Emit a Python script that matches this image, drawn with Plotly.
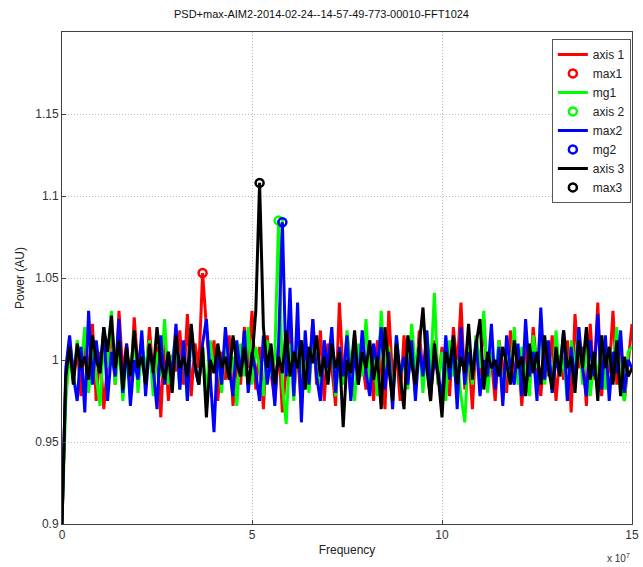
import plotly.graph_objects as go

title = "PSD+max-AIM2-2014-02-24--14-57-49-773-00010-FFT1024"
freq_step = 1e6

red = [0.900, 0.988, 1.012, 0.992, 1.008, 0.978, 1.015, 0.990, 1.022, 0.975,
       1.005, 0.970, 0.998, 1.018, 0.985, 1.030, 0.992, 1.010, 0.980, 1.026,
       0.995, 1.012, 0.985, 1.020, 0.990, 1.008, 0.965, 1.015, 0.975, 1.003,
       0.993, 1.018, 0.985, 1.028, 0.978, 1.010, 0.995, 1.053, 1.020, 0.990,
       1.012, 0.975, 1.005, 0.988, 1.015, 0.972, 1.000, 0.985, 1.020, 0.995,
       1.030, 0.982, 1.008, 0.970, 1.015, 0.992, 0.975, 1.010, 0.968, 0.995,
       1.020, 0.980, 1.005, 0.970, 1.012, 0.990, 1.025, 0.985, 1.018, 0.975,
       1.010, 0.995, 0.972, 1.035, 0.990, 1.005, 0.978, 1.015, 0.988, 1.000,
       0.982, 1.008, 0.975, 1.012, 0.995, 0.970, 1.030, 0.988, 1.005, 0.975,
       1.015, 0.990, 1.002, 0.980, 1.018, 0.992, 1.000, 0.975, 1.012, 0.985,
       1.008, 0.992, 0.978, 1.020, 0.995, 1.035, 0.982, 1.005, 0.970, 1.015,
       0.990, 1.025, 0.985, 1.000, 0.975, 1.012, 0.995, 0.980, 1.018, 0.990,
       1.005, 0.972, 1.010, 0.985, 1.020, 0.995, 0.978, 1.008, 0.990, 1.015,
       0.975, 1.003, 0.988, 1.012, 0.968, 1.028, 0.995, 1.008, 0.972, 1.022,
       0.988, 1.035, 0.978, 1.005, 0.992, 1.030, 0.985, 1.010, 0.975, 1.000,
       1.022]

green = [0.900, 0.975, 1.005, 0.985, 1.012, 0.995, 1.020, 0.980, 1.008, 0.990,
         0.972, 1.015, 0.995, 1.030, 0.985, 1.010, 0.975, 1.002, 0.990, 1.018,
         0.980, 1.008, 0.995, 1.012, 0.978, 1.005, 0.990, 1.025, 0.985, 1.000,
         1.015, 0.982, 1.010, 0.975, 1.018, 0.995, 0.985, 1.008, 0.978, 1.012,
         0.992, 1.005, 0.980, 1.015, 0.988, 1.002, 0.972, 1.010, 0.990, 1.020,
         0.985, 1.008, 0.995, 0.978, 1.012, 0.990, 1.002, 1.085, 0.985, 0.961,
         1.010, 0.975, 1.020, 0.990, 1.005, 0.980, 1.015, 0.995, 0.982, 1.008,
         0.990, 1.012, 0.978, 1.002, 0.985, 1.018, 0.995, 0.975, 1.010, 0.990,
         1.025, 0.985, 1.005, 0.978, 1.030, 0.992, 1.008, 0.975, 1.015, 0.990,
         1.000, 0.982, 1.022, 0.995, 1.010, 0.980, 1.018, 0.992, 1.041, 0.985,
         1.005, 0.975, 1.012, 0.990, 1.000, 0.978, 0.962, 1.008, 0.985, 1.015,
         0.995, 1.030, 0.980, 1.005, 0.990, 1.012, 0.975, 1.002, 0.988, 1.020,
         0.985, 1.008, 0.992, 0.978, 1.015, 0.995, 1.025, 0.985, 1.005, 0.980,
         1.018, 0.990, 1.002, 0.975, 1.012, 0.995, 1.020, 0.985, 1.010, 0.978,
         1.000, 0.990, 1.015, 0.982, 1.008, 0.995, 1.020, 0.985, 0.975, 1.005,
         1.008]

blue = [0.900, 0.995, 1.015, 0.990, 0.975, 1.008, 0.968, 1.030, 0.985, 1.012,
        0.992, 1.020, 0.975, 1.005, 0.990, 1.025, 0.980, 1.010, 0.972, 1.000,
        0.988, 1.018, 0.978, 1.008, 0.995, 0.970, 1.015, 0.985, 1.005, 0.990,
        1.022, 0.982, 1.012, 0.975, 1.020, 0.995, 0.985, 1.010, 1.025, 0.990,
        0.956, 1.008, 0.985, 1.020, 0.995, 0.978, 1.012, 0.990, 1.018, 0.980,
        1.005, 0.992, 0.975, 1.015, 0.985, 1.002, 0.972, 1.010, 1.084, 0.990,
        1.044, 0.978, 1.035, 0.962, 1.018, 0.985, 1.025, 0.990, 0.975, 1.012,
        0.995, 1.020, 0.980, 1.008, 0.990, 1.015, 0.975, 1.005, 0.985, 1.018,
        0.992, 0.978, 1.010, 0.995, 1.020, 0.982, 1.005, 0.970, 1.015, 0.990,
        1.002, 0.985, 1.012, 0.975, 1.008, 0.990, 1.018, 0.980, 1.000, 0.992,
        0.975, 1.015, 0.988, 1.010, 0.970, 1.020, 0.985, 1.005, 0.992, 1.012,
        0.978, 1.000, 0.990, 1.022, 0.982, 1.008, 0.972, 1.015, 0.995, 0.985,
        1.010, 0.978, 1.025, 0.990, 1.005, 0.975, 1.032, 0.988, 1.012, 0.980,
        1.000, 0.992, 1.018, 0.975, 1.008, 0.985, 1.020, 0.995, 0.978, 1.012,
        0.990, 1.028, 0.982, 1.015, 0.975, 1.005, 0.992, 1.018, 0.980, 1.000,
        0.995]

black = [0.900, 0.990, 1.008, 0.985, 1.010, 0.995, 1.002, 0.988, 1.015, 1.000,
         0.992, 1.020, 1.005, 1.027, 0.995, 1.012, 0.982, 1.008, 0.990, 1.018,
         0.995, 1.002, 0.985, 1.010, 0.992, 1.020, 0.998, 0.988, 1.005, 0.980,
         1.015, 0.995, 1.002, 0.990, 1.022, 0.998, 0.985, 1.008, 0.965, 1.000,
         0.992, 1.010, 0.995, 1.002, 0.988, 1.015, 0.998, 0.990, 1.008, 0.985,
         1.000, 1.030, 1.108, 1.020, 0.995, 1.010, 0.985, 1.002, 0.992, 1.018,
         0.990, 1.005, 0.995, 1.012, 0.982, 1.008, 0.998, 1.015, 0.990, 1.002,
         0.985, 1.010, 0.995, 1.005, 0.959, 1.000, 0.992, 1.018, 0.985, 1.005,
         0.995, 1.012, 0.988, 1.002, 0.970, 1.020, 0.995, 0.975, 1.010, 0.990,
         0.970, 1.015, 0.998, 0.985, 1.008, 1.032, 0.995, 0.975, 1.010, 0.990,
         0.965, 1.005, 0.995, 1.015, 0.985, 1.002, 0.992, 1.022, 0.988, 1.010,
         1.025, 0.982, 1.005, 0.995, 1.000, 0.990, 1.008, 0.998, 0.985, 1.012,
         0.995, 1.002, 0.978, 1.010, 0.992, 1.005, 0.985, 1.015, 0.995, 0.982,
         1.008, 0.990, 1.018, 0.995, 1.002, 0.980, 1.012, 0.995, 1.020, 0.988,
         1.005, 0.975, 1.015, 0.995, 1.008, 0.985, 1.012, 0.978, 1.002, 0.990,
         0.995]

series = [
    ("axis 1", "max1", red, "#ff0000"),
    ("mg1", "axis 2", green, "#00ff00"),
    ("max2", "mg2", blue, "#0000ff"),
    ("axis 3", "max3", black, "#000000"),
]

x_ticks = [0, 5e7, 10e7, 15e7]
x_tick_labels = ["0", "5", "10", "15"]
y_ticks = [0.9, 0.95, 1.0, 1.05, 1.1, 1.15]
y_tick_labels = ["0.9", "0.95", "1", "1.05", "1.1", "1.15"]

fig = go.Figure()
for line_name, max_name, vals, col in series:
    xs = [i * freq_step for i in range(len(vals))]
    fig.add_trace(go.Scatter(x=xs, y=vals, mode="lines", name=line_name,
                             line=dict(color=col, width=3)))
    imax = max(range(len(vals)), key=lambda i: vals[i])
    fig.add_trace(go.Scatter(x=[xs[imax]], y=[vals[imax]], mode="markers", name=max_name,
                             marker=dict(symbol="circle-open", size=8, color=col,
                                         line=dict(color=col, width=2.5))))

font_family = "Liberation Sans, Arial, sans-serif"
axis_common = dict(showline=True, linecolor="#404040", linewidth=1, mirror=True,
                   ticks="inside", ticklen=4, tickcolor="#404040",
                   showgrid=True, gridcolor="#bdbdbd", griddash="1px,2px", gridwidth=1,
                   zeroline=False, tickfont=dict(size=12, color="#333333", family=font_family))

fig.update_layout(
    width=643, height=567,
    margin=dict(l=62, r=11, t=32, b=43, autoexpand=False),
    paper_bgcolor="white", plot_bgcolor="white",
    font=dict(family=font_family, size=12, color="#222222"),
    title=dict(text=title, x=0.5, xanchor="center", y=0.975, yanchor="middle",
               font=dict(size=11, color="#111111")),
    showlegend=True,
    legend=dict(x=0.998, y=0.986, xanchor="right", yanchor="top",
                bgcolor="white", bordercolor="#555555", borderwidth=1,
                font=dict(size=12, color="#222222"), tracegroupgap=0,
                itemwidth=30),
    xaxis=dict(range=[0, 15e7], tickvals=x_ticks, ticktext=x_tick_labels,
               title=dict(text="Frequency", standoff=4, font=dict(size=12)), **axis_common),
    yaxis=dict(range=[0.9, 1.2], tickvals=y_ticks, ticktext=y_tick_labels,
               title=dict(text="Power (AU)", standoff=8, font=dict(size=12)), **axis_common),
    annotations=[dict(text="x 10<sup>7</sup>", xref="paper", yref="paper",
                      x=1.0, y=-0.086, xanchor="right", yanchor="bottom", showarrow=False,
                      font=dict(size=10, color="#333333"))],
)

fig.write_html("out.html")
